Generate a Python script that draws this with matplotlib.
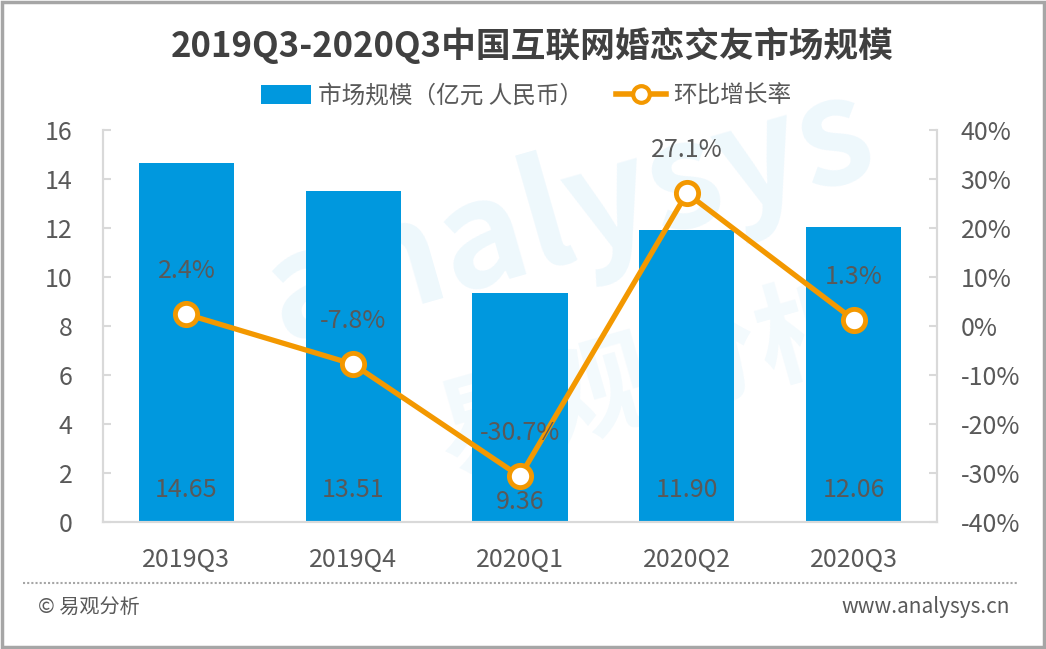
import matplotlib
matplotlib.use("Agg")
import matplotlib.pyplot as plt
from matplotlib.lines import Line2D
from matplotlib.patches import Patch, Rectangle

plt.rcParams['font.family'] = ['Noto Sans CJK SC', 'DejaVu Sans']

# data
quarters = ["2019Q3", "2019Q4", "2020Q1", "2020Q2", "2020Q3"]
market_size = [14.65, 13.51, 9.36, 11.90, 12.06]
growth_pct = [2.4, -7.8, -30.7, 27.1, 1.3]
size_labels = ["14.65", "13.51", "9.36", "11.90", "12.06"]

BAR_BLUE = "#0098DE"
LINE_ORANGE = "#F39800"
TEXT_GRAY = "#595959"
AXIS_GRAY = "#D9D9D9"

fig = plt.figure(figsize=(10.46, 6.49), dpi=100)
ax = fig.add_axes([0.0985, 0.1957, 0.7973, 0.604])
ax2 = ax.twinx()

x = range(len(quarters))
ax.bar(x, market_size, width=0.57, color=BAR_BLUE, zorder=2)
ax2.plot(x, growth_pct, color=LINE_ORANGE, lw=3.8, marker="o", ms=16,
         mfc="white", mec=LINE_ORANGE, mew=3.5, zorder=5)

ax.set_xlim(-0.5, 4.5)
ax.set_ylim(0, 16)
ax.set_yticks(range(0, 17, 2))
ax2.set_ylim(-40, 40)
ax2.set_yticks(range(-40, 41, 10))
ax2.set_yticklabels([f"{v}%" for v in range(-40, 41, 10)])
ax.set_xticks(list(x))
ax.set_xticklabels(quarters)

for a in (ax, ax2):
    a.spines["top"].set_visible(False)
    for s in ("left", "right", "bottom"):
        a.spines[s].set_color(AXIS_GRAY)
        a.spines[s].set_linewidth(1.5)
ax.tick_params(axis="y", direction="in", length=6, width=1.5, color=AXIS_GRAY,
               labelsize=18, labelcolor=TEXT_GRAY, pad=22)
ax2.tick_params(axis="y", direction="in", length=6, width=1.5, color=AXIS_GRAY,
                labelsize=18, labelcolor=TEXT_GRAY, pad=17)
ax.tick_params(axis="x", length=0, labelsize=18, labelcolor=TEXT_GRAY, pad=18)
ax2.set_zorder(ax.get_zorder() + 1)
ax2.patch.set_visible(False)

# faint watermark
ax.text(0.56, 0.78, "analysys", transform=ax.transAxes, ha="center", va="center",
        fontsize=105, fontweight="bold", style="italic", rotation=16,
        rotation_mode="anchor", color="#0098DE", alpha=0.07, zorder=4)
ax.text(0.66, 0.36, "易观分析", transform=ax.transAxes, ha="center", va="center",
        fontsize=80, fontweight="bold", rotation=16, rotation_mode="anchor",
        color="#0098DE", alpha=0.05, zorder=4)

# value labels at the bottom of the bars
for i, lab in enumerate(size_labels):
    yy = 0.8 if i == 2 else 1.3
    ax.text(i, yy, lab, ha="center", va="center", fontsize=18, color=TEXT_GRAY, zorder=3)

# growth labels above markers
for i, g in enumerate(growth_pct):
    ax2.annotate(f"{g}%", (i, g), xytext=(0, 31), textcoords="offset points",
                 ha="center", va="center", fontsize=18, color=TEXT_GRAY, zorder=6)

fig.text(0.509, 0.930, "2019Q3-2020Q3中国互联网婚恋交友市场规模", ha="center", va="center",
         fontsize=25, fontweight="bold", color="#404040")

handles = [Patch(facecolor=BAR_BLUE, label="市场规模（亿元 人民币）"),
           Line2D([], [], color=LINE_ORANGE, lw=4, marker="o", ms=12, mfc="white",
                  mec=LINE_ORANGE, mew=3, label="环比增长率")]
fig.legend(handles=handles, loc="center", bbox_to_anchor=(0.503, 0.852), ncol=2,
           frameon=False, fontsize=17, labelcolor=TEXT_GRAY, handlelength=2.1,
           handleheight=0.9, columnspacing=1.4, handletextpad=0.3)

# footer
fig.add_artist(Line2D([0.022, 0.972], [0.101, 0.101], transform=fig.transFigure,
                      color="#A6A6A6", lw=1.5, ls=(0, (1, 1))))
fig.text(0.036, 0.064, "© 易观分析", ha="left", va="center", fontsize=14.5, color=TEXT_GRAY)
fig.text(0.966, 0.064, "www.analysys.cn", ha="right", va="center", fontsize=15, color=TEXT_GRAY)

# outer border
fig.add_artist(Rectangle((0.002, 0.003), 0.996, 0.994, transform=fig.transFigure,
                         fill=False, edgecolor="#A6A6A6", lw=2.5))

fig.savefig("out.png", dpi=100)
